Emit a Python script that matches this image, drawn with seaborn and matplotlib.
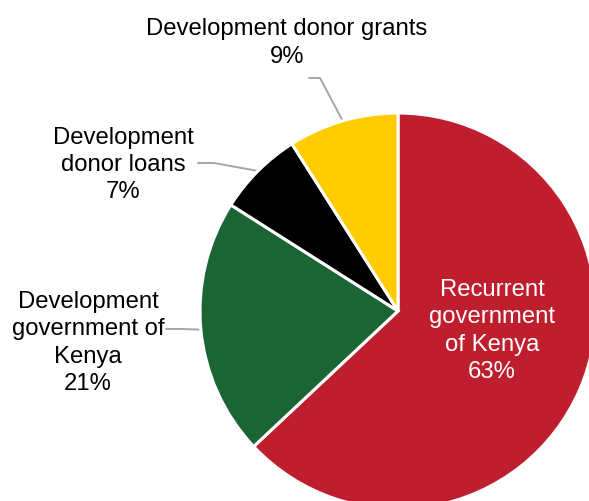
import numpy as np
import matplotlib
matplotlib.use("Agg")
import matplotlib.pyplot as plt
import seaborn as sns

# Budget composition
categories = [
    "Recurrent\ngovernment\nof Kenya",
    "Development\ngovernment of\nKenya",
    "Development\ndonor loans",
    "Development donor grants",
]
shares = [63, 21, 7, 9]
colors = ["#BE1E2D", "#1B6535", "#000000", "#FFCC00"]

sns.set_theme(style="white")
plt.rcParams["font.family"] = ["Liberation Sans", "DejaVu Sans"]

W, H, DPI = 589, 501, 100
fig = plt.figure(figsize=(W / DPI, H / DPI), dpi=DPI)

# pie centre and radius in pixels
cx, cy, R = 398, 311, 198
ax = fig.add_axes([(cx - R) / W, (H - cy - R) / H, 2 * R / W, 2 * R / H])

wedges, _ = ax.pie(
    shares,
    colors=colors,
    startangle=90,
    counterclock=False,
    radius=1.0,
    wedgeprops=dict(edgecolor="white", linewidth=2.2),
)
ax.set_xlim(-1, 1)
ax.set_ylim(-1, 1)
ax.set_aspect("auto")
ax.axis("off")


def px(x, y):
    """pixel position -> data coordinates of the pie axes"""
    return (x - cx) / R, (cy - y) / R


fs = 17.2
labels = [f"{c}\n{v}%" for c, v in zip(categories, shares)]

# label text anchors (pixels) and leader elbows (pixels, None = no leader)
text_pos = [(492, 331), (88, 343), (123, 165), (287, 43)]
text_col = ["white", "black", "black", "black"]
leaders = [None, [(166, 329), (183, 329)], [(198, 163), (214, 163)], [(309, 78), (320, 78)]]

for w, lab, tp, tc, ld in zip(wedges, labels, text_pos, text_col, leaders):
    tx, ty = px(*tp)
    ax.text(tx, ty, lab, ha="center", va="center", color=tc, fontsize=fs,
            linespacing=1.3, clip_on=False)
    if ld is not None:
        mid = np.deg2rad((w.theta1 + w.theta2) / 2)
        ex, ey = np.cos(mid), np.sin(mid)
        pts = [px(*p) for p in ld] + [(ex, ey)]
        xs, ys = zip(*pts)
        ax.plot(xs, ys, color="#A6A6A6", lw=1.4, clip_on=False, zorder=0.5)

fig.savefig("out.png", dpi=DPI)
